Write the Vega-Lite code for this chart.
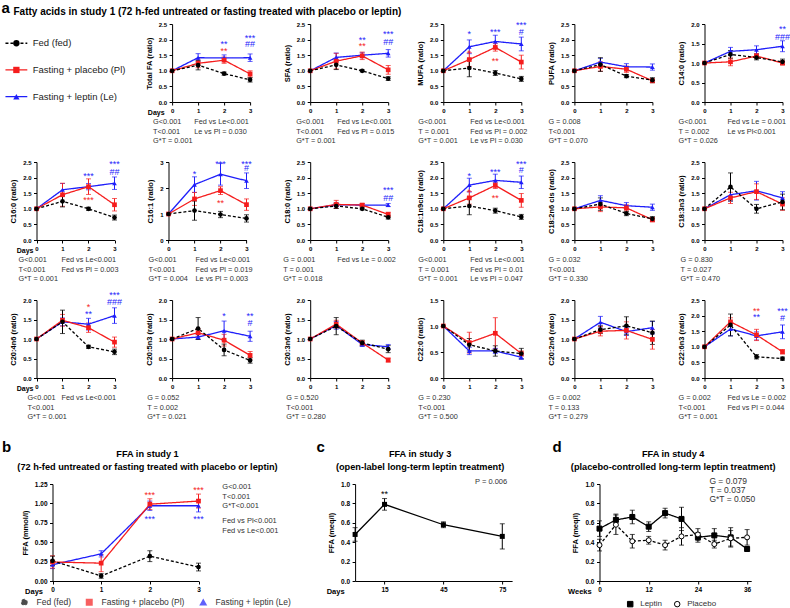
{
"$schema":"https://vega.github.io/schema/vega-lite/v6.json",
"padding":{"left":1,"top":1,"right":0,"bottom":0},
"columns":6,
"bounds":"flush",
"spacing":{"row":60,"column":55.1},
"resolve":{"scale":{"color":"independent","shape":"independent","strokeDash":"independent","fill":"independent","stroke":"independent"}},
"datasets":{
"fa":[
{"p":"TFA","g":"Le","d":0,"v":1,"e":0},{"p":"TFA","g":"Le","d":1,"v":1.42,"e":0.13},{"p":"TFA","g":"Le","d":2,"v":1.41,"e":0.1},{"p":"TFA","g":"Le","d":3,"v":1.42,"e":0.12},
{"p":"TFA","g":"Pl","d":0,"v":1,"e":0},{"p":"TFA","g":"Pl","d":1,"v":1.24,"e":0.14},{"p":"TFA","g":"Pl","d":2,"v":1.34,"e":0.1},{"p":"TFA","g":"Pl","d":3,"v":0.9,"e":0.1},
{"p":"TFA","g":"Fed","d":0,"v":1,"e":0},{"p":"TFA","g":"Fed","d":1,"v":1.18,"e":0.15},{"p":"TFA","g":"Fed","d":2,"v":0.91,"e":0.05},{"p":"TFA","g":"Fed","d":3,"v":0.71,"e":0.07},
{"p":"SFA","g":"Le","d":0,"v":1,"e":0},{"p":"SFA","g":"Le","d":1,"v":1.43,"e":0.14},{"p":"SFA","g":"Le","d":2,"v":1.5,"e":0.08},{"p":"SFA","g":"Le","d":3,"v":1.56,"e":0.12},
{"p":"SFA","g":"Pl","d":0,"v":1,"e":0},{"p":"SFA","g":"Pl","d":1,"v":1.31,"e":0.25},{"p":"SFA","g":"Pl","d":2,"v":1.48,"e":0.12},{"p":"SFA","g":"Pl","d":3,"v":1.03,"e":0.14},
{"p":"SFA","g":"Fed","d":0,"v":1,"e":0},{"p":"SFA","g":"Fed","d":1,"v":1.19,"e":0.15},{"p":"SFA","g":"Fed","d":2,"v":1.0,"e":0.03},{"p":"SFA","g":"Fed","d":3,"v":0.75,"e":0.06},
{"p":"MUFA","g":"Le","d":0,"v":1,"e":0},{"p":"MUFA","g":"Le","d":1,"v":1.77,"e":0.22},{"p":"MUFA","g":"Le","d":2,"v":1.94,"e":0.2},{"p":"MUFA","g":"Le","d":3,"v":1.86,"e":0.22},
{"p":"MUFA","g":"Pl","d":0,"v":1,"e":0},{"p":"MUFA","g":"Pl","d":1,"v":1.36,"e":0.22},{"p":"MUFA","g":"Pl","d":2,"v":1.75,"e":0.12},{"p":"MUFA","g":"Pl","d":3,"v":1.28,"e":0.22},
{"p":"MUFA","g":"Fed","d":0,"v":1,"e":0},{"p":"MUFA","g":"Fed","d":1,"v":1.09,"e":0.28},{"p":"MUFA","g":"Fed","d":2,"v":0.93,"e":0.08},{"p":"MUFA","g":"Fed","d":3,"v":0.74,"e":0.08},
{"p":"PUFA","g":"Le","d":0,"v":1,"e":0},{"p":"PUFA","g":"Le","d":1,"v":1.28,"e":0.12},{"p":"PUFA","g":"Le","d":2,"v":1.13,"e":0.1},{"p":"PUFA","g":"Le","d":3,"v":1.12,"e":0.1},
{"p":"PUFA","g":"Pl","d":0,"v":1,"e":0},{"p":"PUFA","g":"Pl","d":1,"v":1.14,"e":0.15},{"p":"PUFA","g":"Pl","d":2,"v":1.05,"e":0.1},{"p":"PUFA","g":"Pl","d":3,"v":0.68,"e":0.06},
{"p":"PUFA","g":"Fed","d":0,"v":1,"e":0},{"p":"PUFA","g":"Fed","d":1,"v":1.2,"e":0.22},{"p":"PUFA","g":"Fed","d":2,"v":0.83,"e":0.05},{"p":"PUFA","g":"Fed","d":3,"v":0.7,"e":0.08},
{"p":"C140","g":"Le","d":0,"v":1,"e":0},{"p":"C140","g":"Le","d":1,"v":1.3,"e":0.1},{"p":"C140","g":"Le","d":2,"v":1.34,"e":0.1},{"p":"C140","g":"Le","d":3,"v":1.43,"e":0.14},
{"p":"C140","g":"Pl","d":0,"v":1,"e":0},{"p":"C140","g":"Pl","d":1,"v":1.03,"e":0.1},{"p":"C140","g":"Pl","d":2,"v":1.18,"e":0.06},{"p":"C140","g":"Pl","d":3,"v":1.0,"e":0.05},
{"p":"C140","g":"Fed","d":0,"v":1,"e":0},{"p":"C140","g":"Fed","d":1,"v":1.22,"e":0.1},{"p":"C140","g":"Fed","d":2,"v":1.14,"e":0.06},{"p":"C140","g":"Fed","d":3,"v":1.03,"e":0.07},
{"p":"C160","g":"Le","d":0,"v":1,"e":0},{"p":"C160","g":"Le","d":1,"v":1.61,"e":0.2},{"p":"C160","g":"Le","d":2,"v":1.71,"e":0.1},{"p":"C160","g":"Le","d":3,"v":1.82,"e":0.2},
{"p":"C160","g":"Pl","d":0,"v":1,"e":0},{"p":"C160","g":"Pl","d":1,"v":1.45,"e":0.37},{"p":"C160","g":"Pl","d":2,"v":1.71,"e":0.25},{"p":"C160","g":"Pl","d":3,"v":1.13,"e":0.2},
{"p":"C160","g":"Fed","d":0,"v":1,"e":0},{"p":"C160","g":"Fed","d":1,"v":1.24,"e":0.18},{"p":"C160","g":"Fed","d":2,"v":1.0,"e":0.05},{"p":"C160","g":"Fed","d":3,"v":0.72,"e":0.08},
{"p":"C161","g":"Le","d":0,"v":1,"e":0},{"p":"C161","g":"Le","d":1,"v":2.13,"e":0.3},{"p":"C161","g":"Le","d":2,"v":2.53,"e":0.42},{"p":"C161","g":"Le","d":3,"v":2.28,"e":0.3},
{"p":"C161","g":"Pl","d":0,"v":1,"e":0},{"p":"C161","g":"Pl","d":1,"v":1.58,"e":0.25},{"p":"C161","g":"Pl","d":2,"v":1.9,"e":0.15},{"p":"C161","g":"Pl","d":3,"v":1.36,"e":0.22},
{"p":"C161","g":"Fed","d":0,"v":1,"e":0},{"p":"C161","g":"Fed","d":1,"v":1.13,"e":0.37},{"p":"C161","g":"Fed","d":2,"v":0.98,"e":0.12},{"p":"C161","g":"Fed","d":3,"v":0.83,"e":0.14},
{"p":"C180","g":"Le","d":0,"v":1,"e":0},{"p":"C180","g":"Le","d":1,"v":1.13,"e":0.06},{"p":"C180","g":"Le","d":2,"v":1.12,"e":0.04},{"p":"C180","g":"Le","d":3,"v":1.12,"e":0.05},
{"p":"C180","g":"Pl","d":0,"v":1,"e":0},{"p":"C180","g":"Pl","d":1,"v":1.14,"e":0.13},{"p":"C180","g":"Pl","d":2,"v":1.12,"e":0.05},{"p":"C180","g":"Pl","d":3,"v":0.82,"e":0.07},
{"p":"C180","g":"Fed","d":0,"v":1,"e":0},{"p":"C180","g":"Fed","d":1,"v":1.09,"e":0.08},{"p":"C180","g":"Fed","d":2,"v":1.0,"e":0.03},{"p":"C180","g":"Fed","d":3,"v":0.73,"e":0.06},
{"p":"C181","g":"Le","d":0,"v":1,"e":0},{"p":"C181","g":"Le","d":1,"v":1.76,"e":0.22},{"p":"C181","g":"Le","d":2,"v":1.91,"e":0.2},{"p":"C181","g":"Le","d":3,"v":1.85,"e":0.2},
{"p":"C181","g":"Pl","d":0,"v":1,"e":0},{"p":"C181","g":"Pl","d":1,"v":1.35,"e":0.2},{"p":"C181","g":"Pl","d":2,"v":1.75,"e":0.1},{"p":"C181","g":"Pl","d":3,"v":1.27,"e":0.22},
{"p":"C181","g":"Fed","d":0,"v":1,"e":0},{"p":"C181","g":"Fed","d":1,"v":1.09,"e":0.28},{"p":"C181","g":"Fed","d":2,"v":0.94,"e":0.08},{"p":"C181","g":"Fed","d":3,"v":0.74,"e":0.08},
{"p":"C182","g":"Le","d":0,"v":1,"e":0},{"p":"C182","g":"Le","d":1,"v":1.27,"e":0.15},{"p":"C182","g":"Le","d":2,"v":1.1,"e":0.1},{"p":"C182","g":"Le","d":3,"v":1.05,"e":0.1},
{"p":"C182","g":"Pl","d":0,"v":1,"e":0},{"p":"C182","g":"Pl","d":1,"v":1.06,"e":0.15},{"p":"C182","g":"Pl","d":2,"v":1.03,"e":0.1},{"p":"C182","g":"Pl","d":3,"v":0.65,"e":0.07},
{"p":"C182","g":"Fed","d":0,"v":1,"e":0},{"p":"C182","g":"Fed","d":1,"v":1.15,"e":0.2},{"p":"C182","g":"Fed","d":2,"v":0.85,"e":0.07},{"p":"C182","g":"Fed","d":3,"v":0.68,"e":0.07},
{"p":"C183","g":"Le","d":0,"v":1,"e":0},{"p":"C183","g":"Le","d":1,"v":1.45,"e":0.2},{"p":"C183","g":"Le","d":2,"v":1.58,"e":0.3},{"p":"C183","g":"Le","d":3,"v":1.35,"e":0.2},
{"p":"C183","g":"Pl","d":0,"v":1,"e":0},{"p":"C183","g":"Pl","d":1,"v":1.35,"e":0.18},{"p":"C183","g":"Pl","d":2,"v":1.55,"e":0.25},{"p":"C183","g":"Pl","d":3,"v":1.15,"e":0.2},
{"p":"C183","g":"Fed","d":0,"v":1,"e":0},{"p":"C183","g":"Fed","d":1,"v":1.7,"e":0.45},{"p":"C183","g":"Fed","d":2,"v":1.0,"e":0.14},{"p":"C183","g":"Fed","d":3,"v":1.22,"e":0.25},
{"p":"C204","g":"Le","d":0,"v":1,"e":0},{"p":"C204","g":"Le","d":1,"v":1.44,"e":0.1},{"p":"C204","g":"Le","d":2,"v":1.38,"e":0.15},{"p":"C204","g":"Le","d":3,"v":1.6,"e":0.2},
{"p":"C204","g":"Pl","d":0,"v":1,"e":0},{"p":"C204","g":"Pl","d":1,"v":1.48,"e":0.15},{"p":"C204","g":"Pl","d":2,"v":1.29,"e":0.12},{"p":"C204","g":"Pl","d":3,"v":0.92,"e":0.13},
{"p":"C204","g":"Fed","d":0,"v":1,"e":0},{"p":"C204","g":"Fed","d":1,"v":1.44,"e":0.3},{"p":"C204","g":"Fed","d":2,"v":0.8,"e":0.04},{"p":"C204","g":"Fed","d":3,"v":0.67,"e":0.07},
{"p":"C205","g":"Le","d":0,"v":1,"e":0},{"p":"C205","g":"Le","d":1,"v":1.05,"e":0.06},{"p":"C205","g":"Le","d":2,"v":1.21,"e":0.25},{"p":"C205","g":"Le","d":3,"v":1.07,"e":0.13},
{"p":"C205","g":"Pl","d":0,"v":1,"e":0},{"p":"C205","g":"Pl","d":1,"v":1.16,"e":0.1},{"p":"C205","g":"Pl","d":2,"v":0.97,"e":0.15},{"p":"C205","g":"Pl","d":3,"v":0.58,"e":0.1},
{"p":"C205","g":"Fed","d":0,"v":1,"e":0},{"p":"C205","g":"Fed","d":1,"v":1.27,"e":0.28},{"p":"C205","g":"Fed","d":2,"v":0.72,"e":0.15},{"p":"C205","g":"Fed","d":3,"v":0.45,"e":0.07},
{"p":"C203","g":"Le","d":0,"v":1,"e":0},{"p":"C203","g":"Le","d":1,"v":1.35,"e":0.1},{"p":"C203","g":"Le","d":2,"v":0.86,"e":0.05},{"p":"C203","g":"Le","d":3,"v":0.8,"e":0.06},
{"p":"C203","g":"Pl","d":0,"v":1,"e":0},{"p":"C203","g":"Pl","d":1,"v":1.38,"e":0.1},{"p":"C203","g":"Pl","d":2,"v":0.9,"e":0.05},{"p":"C203","g":"Pl","d":3,"v":0.46,"e":0.05},
{"p":"C203","g":"Fed","d":0,"v":1,"e":0},{"p":"C203","g":"Fed","d":1,"v":1.33,"e":0.22},{"p":"C203","g":"Fed","d":2,"v":0.9,"e":0.07},{"p":"C203","g":"Fed","d":3,"v":0.74,"e":0.09},
{"p":"C220","g":"Le","d":0,"v":1,"e":0},{"p":"C220","g":"Le","d":1,"v":0.52,"e":0.07},{"p":"C220","g":"Le","d":2,"v":0.52,"e":0.05},{"p":"C220","g":"Le","d":3,"v":0.4,"e":0.04},
{"p":"C220","g":"Pl","d":0,"v":1,"e":0},{"p":"C220","g":"Pl","d":1,"v":0.68,"e":0.2},{"p":"C220","g":"Pl","d":2,"v":0.86,"e":0.3},{"p":"C220","g":"Pl","d":3,"v":0.47,"e":0.05},
{"p":"C220","g":"Fed","d":0,"v":1,"e":0},{"p":"C220","g":"Fed","d":1,"v":0.64,"e":0.12},{"p":"C220","g":"Fed","d":2,"v":0.52,"e":0.1},{"p":"C220","g":"Fed","d":3,"v":0.47,"e":0.1},
{"p":"C202","g":"Le","d":0,"v":1,"e":0},{"p":"C202","g":"Le","d":1,"v":1.43,"e":0.15},{"p":"C202","g":"Le","d":2,"v":1.19,"e":0.1},{"p":"C202","g":"Le","d":3,"v":1.29,"e":0.16},
{"p":"C202","g":"Pl","d":0,"v":1,"e":0},{"p":"C202","g":"Pl","d":1,"v":1.2,"e":0.12},{"p":"C202","g":"Pl","d":2,"v":1.22,"e":0.22},{"p":"C202","g":"Pl","d":3,"v":0.99,"e":0.25},
{"p":"C202","g":"Fed","d":0,"v":1,"e":0},{"p":"C202","g":"Fed","d":1,"v":1.24,"e":0.1},{"p":"C202","g":"Fed","d":2,"v":1.34,"e":0.23},{"p":"C202","g":"Fed","d":3,"v":1.16,"e":0.3},
{"p":"C226","g":"Le","d":0,"v":1,"e":0},{"p":"C226","g":"Le","d":1,"v":1.57,"e":0.22},{"p":"C226","g":"Le","d":2,"v":1.35,"e":0.13},{"p":"C226","g":"Le","d":3,"v":1.48,"e":0.22},
{"p":"C226","g":"Pl","d":0,"v":1,"e":0},{"p":"C226","g":"Pl","d":1,"v":1.8,"e":0.13},{"p":"C226","g":"Pl","d":2,"v":1.38,"e":0.18},{"p":"C226","g":"Pl","d":3,"v":0.84,"e":0.07},
{"p":"C226","g":"Fed","d":0,"v":1,"e":0},{"p":"C226","g":"Fed","d":1,"v":1.7,"e":0.35},{"p":"C226","g":"Fed","d":2,"v":0.68,"e":0.07},{"p":"C226","g":"Fed","d":3,"v":0.62,"e":0.05}
],
"ann":[
{"p":"TFA","d":2,"y":1.88,"t":"**","g":"Le"},{"p":"TFA","d":2,"y":1.66,"t":"**","g":"Pl"},{"p":"TFA","d":3,"y":2.07,"t":"***","g":"Le"},{"p":"TFA","d":3,"y":1.88,"t":"##","g":"Le"},
{"p":"SFA","d":2,"y":2.02,"t":"**","g":"Le"},{"p":"SFA","d":2,"y":1.82,"t":"**","g":"Pl"},{"p":"SFA","d":3,"y":2.2,"t":"***","g":"Le"},{"p":"SFA","d":3,"y":1.95,"t":"##","g":"Le"},
{"p":"MUFA","d":1,"y":2.2,"t":"*","g":"Le"},{"p":"MUFA","d":1,"y":1.6,"t":"*","g":"Pl"},{"p":"MUFA","d":2,"y":2.27,"t":"***","g":"Le"},{"p":"MUFA","d":2,"y":1.36,"t":"**","g":"Pl"},{"p":"MUFA","d":3,"y":2.5,"t":"***","g":"Le"},{"p":"MUFA","d":3,"y":2.29,"t":"#","g":"Le"},
{"p":"C140","d":3,"y":1.89,"t":"**","g":"Le"},{"p":"C140","d":3,"y":1.69,"t":"###","g":"Le"},
{"p":"C160","d":2,"y":2.09,"t":"***","g":"Le"},{"p":"C160","d":2,"y":1.3,"t":"***","g":"Pl"},{"p":"C160","d":3,"y":2.47,"t":"***","g":"Le"},{"p":"C160","d":3,"y":2.22,"t":"##","g":"Le"},
{"p":"C161","d":1,"y":2.56,"t":"*","g":"Le"},{"p":"C161","d":2,"y":2.98,"t":"***","g":"Le"},{"p":"C161","d":2,"y":1.45,"t":"**","g":"Pl"},{"p":"C161","d":3,"y":2.98,"t":"***","g":"Le"},{"p":"C161","d":3,"y":2.8,"t":"#","g":"Le"},
{"p":"C180","d":3,"y":1.65,"t":"***","g":"Le"},{"p":"C180","d":3,"y":1.39,"t":"##","g":"Le"},
{"p":"C181","d":1,"y":2.09,"t":"*","g":"Le"},{"p":"C181","d":1,"y":1.57,"t":"*","g":"Pl"},{"p":"C181","d":2,"y":2.22,"t":"***","g":"Le"},{"p":"C181","d":2,"y":1.39,"t":"**","g":"Pl"},{"p":"C181","d":3,"y":2.47,"t":"***","g":"Le"},{"p":"C181","d":3,"y":2.28,"t":"#","g":"Le"},
{"p":"C204","d":2,"y":1.85,"t":"*","g":"Pl"},{"p":"C204","d":2,"y":1.66,"t":"**","g":"Le"},{"p":"C204","d":3,"y":2.15,"t":"***","g":"Le"},{"p":"C204","d":3,"y":1.98,"t":"###","g":"Le"},
{"p":"C205","d":2,"y":1.61,"t":"*","g":"Le"},{"p":"C205","d":3,"y":1.61,"t":"**","g":"Le"},{"p":"C205","d":3,"y":1.44,"t":"#","g":"Le"},
{"p":"C226","d":2,"y":2.18,"t":"**","g":"Pl"},{"p":"C226","d":2,"y":1.99,"t":"**","g":"Le"},{"p":"C226","d":3,"y":2.18,"t":"***","g":"Le"},{"p":"C226","d":3,"y":1.96,"t":"#","g":"Le"}
],
"b":[
{"g":"Le","d":0,"v":0.21,"e":0.05},{"g":"Le","d":1,"v":0.35,"e":0.04},{"g":"Le","d":2,"v":0.97,"e":0.06},{"g":"Le","d":3,"v":0.97,"e":0.08},
{"g":"Pl","d":0,"v":0.245,"e":0.08},{"g":"Pl","d":1,"v":0.23,"e":0.11},{"g":"Pl","d":2,"v":0.99,"e":0.07},{"g":"Pl","d":3,"v":1.03,"e":0.09},
{"g":"Fed","d":0,"v":0.26,"e":0.06},{"g":"Fed","d":1,"v":0.065,"e":0.03},{"g":"Fed","d":2,"v":0.32,"e":0.07},{"g":"Fed","d":3,"v":0.18,"e":0.05}
],
"c":[{"d":0,"v":0.48,"e":0.07},{"d":15,"v":0.79,"e":0.06},{"d":45,"v":0.58,"e":0.03},{"d":75,"v":0.46,"e":0.13}],
"dd":[
{"g":"Leptin","w":0,"v":0.54,"e":0.08},{"g":"Leptin","w":4,"v":0.63,"e":0.06},{"g":"Leptin","w":8,"v":0.66,"e":0.07},{"g":"Leptin","w":12,"v":0.56,"e":0.05},{"g":"Leptin","w":16,"v":0.7,"e":0.05},{"g":"Leptin","w":20,"v":0.64,"e":0.12},{"g":"Leptin","w":24,"v":0.45,"e":0.05},{"g":"Leptin","w":28,"v":0.47,"e":0.07},{"g":"Leptin","w":32,"v":0.45,"e":0.1},{"g":"Leptin","w":36,"v":0.33,"e":0.02},
{"g":"Placebo","w":0,"v":0.37,"e":0.06},{"g":"Placebo","w":4,"v":0.58,"e":0.1},{"g":"Placebo","w":8,"v":0.41,"e":0.07},{"g":"Placebo","w":12,"v":0.42,"e":0.04},{"g":"Placebo","w":16,"v":0.37,"e":0.05},{"g":"Placebo","w":20,"v":0.46,"e":0.09},{"g":"Placebo","w":24,"v":0.48,"e":0.06},{"g":"Placebo","w":28,"v":0.38,"e":0.04},{"g":"Placebo","w":32,"v":0.44,"e":0.08},{"g":"Placebo","w":36,"v":0.45,"e":0.08}
]
},
"concat":[
{"width":78,"height":78,
 "data":{"values":[{"g":"Fed","k":0,"lab":"Fed (fed)"},{"g":"Pl","k":1,"lab":"Fasting + placebo (Pl)"},{"g":"Le","k":2,"lab":"Fasting + leptin (Le)"}]},
 "title":{"text":"a","anchor":"start","frame":"group","dx":-37.5,"offset":8,"fontSize":15,"fontWeight":"bold"},
 "encoding":{"y":{"field":"k","type":"quantitative","scale":{"domain":[-0.72,2.2],"reverse":true},"axis":null},
  "x":{"datum":-0.29,"type":"quantitative","scale":{"domain":[0,1]},"axis":null},
  "color":{"field":"g","type":"nominal","legend":null}},
 "layer":[
  {"mark":{"type":"rule","strokeWidth":1.3},"encoding":{"x":{"datum":-0.43},"x2":{"datum":-0.15},"strokeDash":{"field":"g","type":"nominal","scale":{"domain":["Fed","Le","Pl"],"range":[[3,2],[1,0],[1,0]]},"legend":null}}},
  {"mark":{"type":"point","size":40},"encoding":{"shape":{"field":"g","type":"nominal","legend":null}}},
  {"mark":{"type":"text","align":"left","baseline":"middle","fontSize":9.5},"encoding":{"x":{"datum":-0.08},"text":{"field":"lab"},"color":{"value":"#222"}}}
 ]},
{"width":78,"height":78,"data":{"name":"fa"},"transform":[{"filter":"datum.p=='TFA'"}],
 "title":{"text":"Fatty acids in study 1 (72 h-fed untreated or fasting treated with placebo or leptin)","anchor":"start","frame":"group","dx":-158.6,"offset":4,"fontSize":10,"fontWeight":"bold"},
 "encoding":{"x":{"field":"d","type":"quantitative","scale":{"domain":[0,3]},"axis":{"values":[0,1,2,3],"format":"d","title":"Days","titleX":-8,"titleY":10,"titleAlign":"right","titleBaseline":"middle","titleFontSize":7}},
  "y":{"field":"v","type":"quantitative","scale":{"domain":[0,2.5]},"axis":{"values":[0,0.5,1,1.5,2,2.5],"format":".1f","title":"Total FA (ratio)"}},
  "color":{"field":"g","type":"nominal","legend":null}},
 "layer":[
  {"transform":[{"filter":"datum.d>0"}],"mark":{"type":"errorbar","ticks":{"size":5},"thickness":1},"encoding":{"yError":{"field":"e"}}},
  {"mark":"line","encoding":{"strokeDash":{"field":"g","type":"nominal","scale":{"domain":["Fed","Le","Pl"],"range":[[3,2],[1,0],[1,0]]},"legend":null}}},
  {"mark":"point","encoding":{"shape":{"field":"g","type":"nominal","legend":null}}},
  {"data":{"name":"ann"},"transform":[{"filter":"datum.p=='TFA'"}],"mark":{"type":"text","fontSize":9,"baseline":"middle","dy":1},"encoding":{"y":{"field":"y","type":"quantitative"},"text":{"field":"t"}}},
  {"transform":[{"filter":"datum.d==0&&datum.g=='Fed'"}],"mark":{"type":"text","align":"left","baseline":"top","dy":47.2,"lineHeight":9.5,"fontSize":7.3},"encoding":{"x":{"datum":-0.73},"text":{"value":["G<0.001","T<0.001","G*T = 0.001"]},"color":{"value":"#333"}}},
  {"transform":[{"filter":"datum.d==0&&datum.g=='Fed'"}],"mark":{"type":"text","align":"left","baseline":"top","dy":47.2,"lineHeight":9.5,"fontSize":7.3},"encoding":{"x":{"datum":0.85},"text":{"value":["Fed vs Le<0.001","Le vs Pl = 0.030"]},"color":{"value":"#333"}}}
 ]},
{"width":78,"height":78,"data":{"name":"fa"},"transform":[{"filter":"datum.p=='SFA'"}],
 "encoding":{"x":{"field":"d","type":"quantitative","scale":{"domain":[0,3],"range":[5,83]},"axis":{"values":[0,1,2,3],"format":"d","title":null}},
  "y":{"field":"v","type":"quantitative","scale":{"domain":[0,2.5]},"axis":{"values":[0,0.5,1,1.5,2,2.5],"format":".1f","title":"SFA (ratio)","offset":-5}},
  "color":{"field":"g","type":"nominal","legend":null}},
 "layer":[
  {"transform":[{"filter":"datum.d>0"}],"mark":{"type":"errorbar","ticks":{"size":5},"thickness":1},"encoding":{"yError":{"field":"e"}}},
  {"mark":"line","encoding":{"strokeDash":{"field":"g","type":"nominal","scale":{"domain":["Fed","Le","Pl"],"range":[[3,2],[1,0],[1,0]]},"legend":null}}},
  {"mark":"point","encoding":{"shape":{"field":"g","type":"nominal","legend":null}}},
  {"data":{"name":"ann"},"transform":[{"filter":"datum.p=='SFA'"}],"mark":{"type":"text","fontSize":9,"baseline":"middle","dy":1},"encoding":{"y":{"field":"y","type":"quantitative"},"text":{"field":"t"}}},
  {"transform":[{"filter":"datum.d==0&&datum.g=='Fed'"}],"mark":{"type":"text","align":"left","baseline":"top","dy":47.2,"lineHeight":9.5,"fontSize":7.3},"encoding":{"x":{"datum":-0.54},"text":{"value":["G<0.001","T<0.001","G*T = 0.001"]},"color":{"value":"#333"}}},
  {"transform":[{"filter":"datum.d==0&&datum.g=='Fed'"}],"mark":{"type":"text","align":"left","baseline":"top","dy":47.2,"lineHeight":9.5,"fontSize":7.3},"encoding":{"x":{"datum":1.04},"text":{"value":["Fed vs Le<0.001","Fed vs Pl = 0.015"]},"color":{"value":"#333"}}}
 ]},
{"width":78,"height":78,"data":{"name":"fa"},"transform":[{"filter":"datum.p=='MUFA'"}],
 "encoding":{"x":{"field":"d","type":"quantitative","scale":{"domain":[0,3],"range":[5,83]},"axis":{"values":[0,1,2,3],"format":"d","title":null}},
  "y":{"field":"v","type":"quantitative","scale":{"domain":[0,2.5]},"axis":{"values":[0,0.5,1,1.5,2,2.5],"format":".1f","title":"MUFA (ratio)","offset":-5}},
  "color":{"field":"g","type":"nominal","legend":null}},
 "layer":[
  {"transform":[{"filter":"datum.d>0"}],"mark":{"type":"errorbar","ticks":{"size":5},"thickness":1},"encoding":{"yError":{"field":"e"}}},
  {"mark":"line","encoding":{"strokeDash":{"field":"g","type":"nominal","scale":{"domain":["Fed","Le","Pl"],"range":[[3,2],[1,0],[1,0]]},"legend":null}}},
  {"mark":"point","encoding":{"shape":{"field":"g","type":"nominal","legend":null}}},
  {"data":{"name":"ann"},"transform":[{"filter":"datum.p=='MUFA'"}],"mark":{"type":"text","fontSize":9,"baseline":"middle","dy":1},"encoding":{"y":{"field":"y","type":"quantitative"},"text":{"field":"t"}}},
  {"transform":[{"filter":"datum.d==0&&datum.g=='Fed'"}],"mark":{"type":"text","align":"left","baseline":"top","dy":47.2,"lineHeight":9.5,"fontSize":7.3},"encoding":{"x":{"datum":-0.96},"text":{"value":["G<0.001","T = 0.001","G*T = 0.001"]},"color":{"value":"#333"}}},
  {"transform":[{"filter":"datum.d==0&&datum.g=='Fed'"}],"mark":{"type":"text","align":"left","baseline":"top","dy":47.2,"lineHeight":9.5,"fontSize":7.3},"encoding":{"x":{"datum":1.04},"text":{"value":["Fed vs Le<0.001","Fed vs Pl = 0.002","Le vs Pl = 0.030"]},"color":{"value":"#333"}}}
 ]},
{"width":78,"height":78,"data":{"name":"fa"},"transform":[{"filter":"datum.p=='PUFA'"}],
 "encoding":{"x":{"field":"d","type":"quantitative","scale":{"domain":[0,3],"range":[3,81]},"axis":{"values":[0,1,2,3],"format":"d","title":null}},
  "y":{"field":"v","type":"quantitative","scale":{"domain":[0,2.5]},"axis":{"values":[0,0.5,1,1.5,2,2.5],"format":".1f","title":"PUFA (ratio)","offset":-3}},
  "color":{"field":"g","type":"nominal","legend":null}},
 "layer":[
  {"transform":[{"filter":"datum.d>0"}],"mark":{"type":"errorbar","ticks":{"size":5},"thickness":1},"encoding":{"yError":{"field":"e"}}},
  {"mark":"line","encoding":{"strokeDash":{"field":"g","type":"nominal","scale":{"domain":["Fed","Le","Pl"],"range":[[3,2],[1,0],[1,0]]},"legend":null}}},
  {"mark":"point","encoding":{"shape":{"field":"g","type":"nominal","legend":null}}},
  {"transform":[{"filter":"datum.d==0&&datum.g=='Fed'"}],"mark":{"type":"text","align":"left","baseline":"top","dy":47.2,"lineHeight":9.5,"fontSize":7.3},"encoding":{"x":{"datum":-1.0},"text":{"value":["G = 0.008","T<0.001","G*T = 0.070"]},"color":{"value":"#333"}}}
 ]},
{"width":78,"height":78,"data":{"name":"fa"},"transform":[{"filter":"datum.p=='C140'"}],
 "encoding":{"x":{"field":"d","type":"quantitative","scale":{"domain":[0,3]},"axis":{"values":[0,1,2,3],"format":"d","title":null}},
  "y":{"field":"v","type":"quantitative","scale":{"domain":[0,2]},"axis":{"values":[0,0.5,1,1.5,2],"format":".1f","title":"C14:0 (ratio)"}},
  "color":{"field":"g","type":"nominal","legend":null}},
 "layer":[
  {"transform":[{"filter":"datum.d>0"}],"mark":{"type":"errorbar","ticks":{"size":5},"thickness":1},"encoding":{"yError":{"field":"e"}}},
  {"mark":"line","encoding":{"strokeDash":{"field":"g","type":"nominal","scale":{"domain":["Fed","Le","Pl"],"range":[[3,2],[1,0],[1,0]]},"legend":null}}},
  {"mark":"point","encoding":{"shape":{"field":"g","type":"nominal","legend":null}}},
  {"data":{"name":"ann"},"transform":[{"filter":"datum.p=='C140'"}],"mark":{"type":"text","fontSize":9,"baseline":"middle","dy":1},"encoding":{"y":{"field":"y","type":"quantitative"},"text":{"field":"t"}}},
  {"transform":[{"filter":"datum.d==0&&datum.g=='Fed'"}],"mark":{"type":"text","align":"left","baseline":"top","dy":55,"lineHeight":9.5,"fontSize":7.3},"encoding":{"x":{"datum":-1.0},"text":{"value":["G<0.001","T = 0.002","G*T = 0.026"]},"color":{"value":"#333"}}},
  {"transform":[{"filter":"datum.d==0&&datum.g=='Fed'"}],"mark":{"type":"text","align":"left","baseline":"top","dy":55,"lineHeight":9.5,"fontSize":7.3},"encoding":{"x":{"datum":0.88},"text":{"value":["Fed vs Le = 0.001","Le vs Pl<0.001"]},"color":{"value":"#333"}}}
 ]},
{"width":78,"height":78,"data":{"name":"fa"},"transform":[{"filter":"datum.p=='C160'"}],
 "encoding":{"x":{"field":"d","type":"quantitative","scale":{"domain":[0,3],"range":[-2.5,75.5]},"axis":{"values":[0,1,2,3],"format":"d","title":"Days","titleX":-6,"titleY":10,"titleAlign":"right","titleBaseline":"middle","titleFontSize":7}},
  "y":{"field":"v","type":"quantitative","scale":{"domain":[0,2.5]},"axis":{"values":[0,0.5,1,1.5,2,2.5],"format":".1f","title":"C16:0 (ratio)","offset":2.5}},
  "color":{"field":"g","type":"nominal","legend":null}},
 "layer":[
  {"transform":[{"filter":"datum.d>0"}],"mark":{"type":"errorbar","ticks":{"size":5},"thickness":1},"encoding":{"yError":{"field":"e"}}},
  {"mark":"line","encoding":{"strokeDash":{"field":"g","type":"nominal","scale":{"domain":["Fed","Le","Pl"],"range":[[3,2],[1,0],[1,0]]},"legend":null}}},
  {"mark":"point","encoding":{"shape":{"field":"g","type":"nominal","legend":null}}},
  {"data":{"name":"ann"},"transform":[{"filter":"datum.p=='C160'"}],"mark":{"type":"text","fontSize":9,"baseline":"middle","dy":1},"encoding":{"y":{"field":"y","type":"quantitative"},"text":{"field":"t"}}},
  {"transform":[{"filter":"datum.d==0&&datum.g=='Fed'"}],"mark":{"type":"text","align":"left","baseline":"top","dy":47.2,"lineHeight":9.5,"fontSize":7.3},"encoding":{"x":{"datum":-0.69},"text":{"value":["G<0.001","T<0.001","G*T = 0.001"]},"color":{"value":"#333"}}},
  {"transform":[{"filter":"datum.d==0&&datum.g=='Fed'"}],"mark":{"type":"text","align":"left","baseline":"top","dy":47.2,"lineHeight":9.5,"fontSize":7.3},"encoding":{"x":{"datum":0.96},"text":{"value":["Fed vs Le<0.001","Fed vs Pl = 0.003"]},"color":{"value":"#333"}}}
 ]},
{"width":78,"height":78,"data":{"name":"fa"},"transform":[{"filter":"datum.p=='C161'"}],
 "encoding":{"x":{"field":"d","type":"quantitative","scale":{"domain":[0,3],"range":[-3.6,74.4]},"axis":{"values":[0,1,2,3],"format":"d","title":null}},
  "y":{"field":"v","type":"quantitative","scale":{"domain":[0,3]},"axis":{"values":[0,1,2,3],"format":"d","title":"C16:1 (ratio)","offset":3.6}},
  "color":{"field":"g","type":"nominal","legend":null}},
 "layer":[
  {"transform":[{"filter":"datum.d>0"}],"mark":{"type":"errorbar","ticks":{"size":5},"thickness":1},"encoding":{"yError":{"field":"e"}}},
  {"mark":"line","encoding":{"strokeDash":{"field":"g","type":"nominal","scale":{"domain":["Fed","Le","Pl"],"range":[[3,2],[1,0],[1,0]]},"legend":null}}},
  {"mark":"point","encoding":{"shape":{"field":"g","type":"nominal","legend":null}}},
  {"data":{"name":"ann"},"transform":[{"filter":"datum.p=='C161'"}],"mark":{"type":"text","fontSize":9,"baseline":"middle","dy":1},"encoding":{"y":{"field":"y","type":"quantitative"},"text":{"field":"t"}}},
  {"transform":[{"filter":"datum.d==0&&datum.g=='Fed'"}],"mark":{"type":"text","align":"left","baseline":"top","dy":42,"lineHeight":9.5,"fontSize":7.3},"encoding":{"x":{"datum":-0.77},"text":{"value":["G<0.001","T<0.001","G*T = 0.004"]},"color":{"value":"#333"}}},
  {"transform":[{"filter":"datum.d==0&&datum.g=='Fed'"}],"mark":{"type":"text","align":"left","baseline":"top","dy":42,"lineHeight":9.5,"fontSize":7.3},"encoding":{"x":{"datum":1.04},"text":{"value":["Fed vs Le<0.001","Fed vs Pl = 0.019","Le vs Pl = 0.003"]},"color":{"value":"#333"}}}
 ]},
{"width":78,"height":78,"data":{"name":"fa"},"transform":[{"filter":"datum.p=='C180'"}],
 "encoding":{"x":{"field":"d","type":"quantitative","scale":{"domain":[0,3],"range":[5,83]},"axis":{"values":[0,1,2,3],"format":"d","title":null}},
  "y":{"field":"v","type":"quantitative","scale":{"domain":[0,2.5]},"axis":{"values":[0,0.5,1,1.5,2,2.5],"format":".1f","title":"C18:0 (ratio)","offset":-5}},
  "color":{"field":"g","type":"nominal","legend":null}},
 "layer":[
  {"transform":[{"filter":"datum.d>0"}],"mark":{"type":"errorbar","ticks":{"size":5},"thickness":1},"encoding":{"yError":{"field":"e"}}},
  {"mark":"line","encoding":{"strokeDash":{"field":"g","type":"nominal","scale":{"domain":["Fed","Le","Pl"],"range":[[3,2],[1,0],[1,0]]},"legend":null}}},
  {"mark":"point","encoding":{"shape":{"field":"g","type":"nominal","legend":null}}},
  {"data":{"name":"ann"},"transform":[{"filter":"datum.p=='C180'"}],"mark":{"type":"text","fontSize":9,"baseline":"middle","dy":1},"encoding":{"y":{"field":"y","type":"quantitative"},"text":{"field":"t"}}},
  {"transform":[{"filter":"datum.d==0&&datum.g=='Fed'"}],"mark":{"type":"text","align":"left","baseline":"top","dy":47.2,"lineHeight":9.5,"fontSize":7.3},"encoding":{"x":{"datum":-1.04},"text":{"value":["G = 0.001","T = 0.001","G*T = 0.018"]},"color":{"value":"#333"}}},
  {"transform":[{"filter":"datum.d==0&&datum.g=='Fed'"}],"mark":{"type":"text","align":"left","baseline":"top","dy":47.2,"lineHeight":9.5,"fontSize":7.3},"encoding":{"x":{"datum":1.04},"text":{"value":["Fed vs Le = 0.002"]},"color":{"value":"#333"}}}
 ]},
{"width":78,"height":78,"data":{"name":"fa"},"transform":[{"filter":"datum.p=='C181'"}],
 "encoding":{"x":{"field":"d","type":"quantitative","scale":{"domain":[0,3],"range":[5,83]},"axis":{"values":[0,1,2,3],"format":"d","title":null}},
  "y":{"field":"v","type":"quantitative","scale":{"domain":[0,2.5]},"axis":{"values":[0,0.5,1,1.5,2,2.5],"format":".1f","title":"C18:1n9cis (ratio)","offset":-5}},
  "color":{"field":"g","type":"nominal","legend":null}},
 "layer":[
  {"transform":[{"filter":"datum.d>0"}],"mark":{"type":"errorbar","ticks":{"size":5},"thickness":1},"encoding":{"yError":{"field":"e"}}},
  {"mark":"line","encoding":{"strokeDash":{"field":"g","type":"nominal","scale":{"domain":["Fed","Le","Pl"],"range":[[3,2],[1,0],[1,0]]},"legend":null}}},
  {"mark":"point","encoding":{"shape":{"field":"g","type":"nominal","legend":null}}},
  {"data":{"name":"ann"},"transform":[{"filter":"datum.p=='C181'"}],"mark":{"type":"text","fontSize":9,"baseline":"middle","dy":1},"encoding":{"y":{"field":"y","type":"quantitative"},"text":{"field":"t"}}},
  {"transform":[{"filter":"datum.d==0&&datum.g=='Fed'"}],"mark":{"type":"text","align":"left","baseline":"top","dy":47.2,"lineHeight":9.5,"fontSize":7.3},"encoding":{"x":{"datum":-0.96},"text":{"value":["G<0.001","T = 0.001","G*T = 0.001"]},"color":{"value":"#333"}}},
  {"transform":[{"filter":"datum.d==0&&datum.g=='Fed'"}],"mark":{"type":"text","align":"left","baseline":"top","dy":47.2,"lineHeight":9.5,"fontSize":7.3},"encoding":{"x":{"datum":1.04},"text":{"value":["Fed vs Le<0.001","Fed vs Pl = 0.01","Le vs Pl = 0.047"]},"color":{"value":"#333"}}}
 ]},
{"width":78,"height":78,"data":{"name":"fa"},"transform":[{"filter":"datum.p=='C182'"}],
 "encoding":{"x":{"field":"d","type":"quantitative","scale":{"domain":[0,3],"range":[3,81]},"axis":{"values":[0,1,2,3],"format":"d","title":null}},
  "y":{"field":"v","type":"quantitative","scale":{"domain":[0,2.5]},"axis":{"values":[0,0.5,1,1.5,2,2.5],"format":".1f","title":"C18:2n6 cis (ratio)","offset":-3}},
  "color":{"field":"g","type":"nominal","legend":null}},
 "layer":[
  {"transform":[{"filter":"datum.d>0"}],"mark":{"type":"errorbar","ticks":{"size":5},"thickness":1},"encoding":{"yError":{"field":"e"}}},
  {"mark":"line","encoding":{"strokeDash":{"field":"g","type":"nominal","scale":{"domain":["Fed","Le","Pl"],"range":[[3,2],[1,0],[1,0]]},"legend":null}}},
  {"mark":"point","encoding":{"shape":{"field":"g","type":"nominal","legend":null}}},
  {"transform":[{"filter":"datum.d==0&&datum.g=='Fed'"}],"mark":{"type":"text","align":"left","baseline":"top","dy":47.2,"lineHeight":9.5,"fontSize":7.3},"encoding":{"x":{"datum":-1.0},"text":{"value":["G = 0.032","T<0.001","G*T = 0.330"]},"color":{"value":"#333"}}}
 ]},
{"width":78,"height":78,"data":{"name":"fa"},"transform":[{"filter":"datum.p=='C183'"}],
 "encoding":{"x":{"field":"d","type":"quantitative","scale":{"domain":[0,3]},"axis":{"values":[0,1,2,3],"format":"d","title":null}},
  "y":{"field":"v","type":"quantitative","scale":{"domain":[0,2.5]},"axis":{"values":[0,0.5,1,1.5,2,2.5],"format":".1f","title":"C18:3n3 (ratio)"}},
  "color":{"field":"g","type":"nominal","legend":null}},
 "layer":[
  {"transform":[{"filter":"datum.d>0"}],"mark":{"type":"errorbar","ticks":{"size":5},"thickness":1},"encoding":{"yError":{"field":"e"}}},
  {"mark":"line","encoding":{"strokeDash":{"field":"g","type":"nominal","scale":{"domain":["Fed","Le","Pl"],"range":[[3,2],[1,0],[1,0]]},"legend":null}}},
  {"mark":"point","encoding":{"shape":{"field":"g","type":"nominal","legend":null}}},
  {"transform":[{"filter":"datum.d==0&&datum.g=='Fed'"}],"mark":{"type":"text","align":"left","baseline":"top","dy":47.2,"lineHeight":9.5,"fontSize":7.3},"encoding":{"x":{"datum":-0.92},"text":{"value":["G = 0.830","T = 0.027","G*T = 0.470"]},"color":{"value":"#333"}}}
 ]},
{"width":78,"height":78,"data":{"name":"fa"},"transform":[{"filter":"datum.p=='C204'"}],
 "encoding":{"x":{"field":"d","type":"quantitative","scale":{"domain":[0,3],"range":[-2.5,75.5]},"axis":{"values":[0,1,2,3],"format":"d","title":"Days","titleX":-6,"titleY":10,"titleAlign":"right","titleBaseline":"middle","titleFontSize":7}},
  "y":{"field":"v","type":"quantitative","scale":{"domain":[0,2]},"axis":{"values":[0,0.5,1,1.5,2],"format":".1f","title":"C20:4n6 (ratio)","offset":2.5}},
  "color":{"field":"g","type":"nominal","legend":null}},
 "layer":[
  {"transform":[{"filter":"datum.d>0"}],"mark":{"type":"errorbar","ticks":{"size":5},"thickness":1},"encoding":{"yError":{"field":"e"}}},
  {"mark":"line","encoding":{"strokeDash":{"field":"g","type":"nominal","scale":{"domain":["Fed","Le","Pl"],"range":[[3,2],[1,0],[1,0]]},"legend":null}}},
  {"mark":"point","encoding":{"shape":{"field":"g","type":"nominal","legend":null}}},
  {"data":{"name":"ann"},"transform":[{"filter":"datum.p=='C204'"}],"mark":{"type":"text","fontSize":9,"baseline":"middle","dy":1},"encoding":{"y":{"field":"y","type":"quantitative"},"text":{"field":"t"}}},
  {"transform":[{"filter":"datum.d==0&&datum.g=='Fed'"}],"mark":{"type":"text","align":"left","baseline":"top","dy":55,"lineHeight":9.5,"fontSize":7.3},"encoding":{"x":{"datum":-0.35},"text":{"value":["G<0.001","T<0.001","G*T = 0.001"]},"color":{"value":"#333"}}},
  {"transform":[{"filter":"datum.d==0&&datum.g=='Fed'"}],"mark":{"type":"text","align":"left","baseline":"top","dy":55,"lineHeight":9.5,"fontSize":7.3},"encoding":{"x":{"datum":0.96},"text":{"value":["Fed vs Le<0.001"]},"color":{"value":"#333"}}}
 ]},
{"width":78,"height":78,"data":{"name":"fa"},"transform":[{"filter":"datum.p=='C205'"}],
 "encoding":{"x":{"field":"d","type":"quantitative","scale":{"domain":[0,3]},"axis":{"values":[0,1,2,3],"format":"d","title":null}},
  "y":{"field":"v","type":"quantitative","scale":{"domain":[0,2]},"axis":{"values":[0,0.5,1,1.5,2],"format":".1f","title":"C20:5n3 (ratio)"}},
  "color":{"field":"g","type":"nominal","legend":null}},
 "layer":[
  {"transform":[{"filter":"datum.d>0"}],"mark":{"type":"errorbar","ticks":{"size":5},"thickness":1},"encoding":{"yError":{"field":"e"}}},
  {"mark":"line","encoding":{"strokeDash":{"field":"g","type":"nominal","scale":{"domain":["Fed","Le","Pl"],"range":[[3,2],[1,0],[1,0]]},"legend":null}}},
  {"mark":"point","encoding":{"shape":{"field":"g","type":"nominal","legend":null}}},
  {"data":{"name":"ann"},"transform":[{"filter":"datum.p=='C205'"}],"mark":{"type":"text","fontSize":9,"baseline":"middle","dy":1},"encoding":{"y":{"field":"y","type":"quantitative"},"text":{"field":"t"}}},
  {"transform":[{"filter":"datum.d==0&&datum.g=='Fed'"}],"mark":{"type":"text","align":"left","baseline":"top","dy":55,"lineHeight":9.5,"fontSize":7.3},"encoding":{"x":{"datum":-0.96},"text":{"value":["G = 0.052","T = 0.002","G*T = 0.021"]},"color":{"value":"#333"}}}
 ]},
{"width":78,"height":78,"data":{"name":"fa"},"transform":[{"filter":"datum.p=='C203'"}],
 "encoding":{"x":{"field":"d","type":"quantitative","scale":{"domain":[0,3],"range":[5,83]},"axis":{"values":[0,1,2,3],"format":"d","title":null}},
  "y":{"field":"v","type":"quantitative","scale":{"domain":[0,2]},"axis":{"values":[0,0.5,1,1.5,2],"format":".1f","title":"C20:3n6 (ratio)","offset":-5}},
  "color":{"field":"g","type":"nominal","legend":null}},
 "layer":[
  {"transform":[{"filter":"datum.d>0"}],"mark":{"type":"errorbar","ticks":{"size":5},"thickness":1},"encoding":{"yError":{"field":"e"}}},
  {"mark":"line","encoding":{"strokeDash":{"field":"g","type":"nominal","scale":{"domain":["Fed","Le","Pl"],"range":[[3,2],[1,0],[1,0]]},"legend":null}}},
  {"mark":"point","encoding":{"shape":{"field":"g","type":"nominal","legend":null}}},
  {"transform":[{"filter":"datum.d==0&&datum.g=='Fed'"}],"mark":{"type":"text","align":"left","baseline":"top","dy":55,"lineHeight":9.5,"fontSize":7.3},"encoding":{"x":{"datum":-0.92},"text":{"value":["G = 0.520","T<0.001","G*T = 0.280"]},"color":{"value":"#333"}}}
 ]},
{"width":78,"height":78,"data":{"name":"fa"},"transform":[{"filter":"datum.p=='C220'"}],
 "encoding":{"x":{"field":"d","type":"quantitative","scale":{"domain":[0,3],"range":[5,83]},"axis":{"values":[0,1,2,3],"format":"d","title":null}},
  "y":{"field":"v","type":"quantitative","scale":{"domain":[0,1.5]},"axis":{"values":[0,0.5,1,1.5],"format":".1f","title":"C22:0 (ratio)","offset":-5}},
  "color":{"field":"g","type":"nominal","legend":null}},
 "layer":[
  {"transform":[{"filter":"datum.d>0"}],"mark":{"type":"errorbar","ticks":{"size":5},"thickness":1},"encoding":{"yError":{"field":"e"}}},
  {"mark":"line","encoding":{"strokeDash":{"field":"g","type":"nominal","scale":{"domain":["Fed","Le","Pl"],"range":[[3,2],[1,0],[1,0]]},"legend":null}}},
  {"mark":"point","encoding":{"shape":{"field":"g","type":"nominal","legend":null}}},
  {"transform":[{"filter":"datum.d==0&&datum.g=='Fed'"}],"mark":{"type":"text","align":"left","baseline":"top","dy":68,"lineHeight":9.5,"fontSize":7.3},"encoding":{"x":{"datum":-0.96},"text":{"value":["G = 0.230","T<0.001","G*T = 0.500"]},"color":{"value":"#333"}}}
 ]},
{"width":78,"height":78,"data":{"name":"fa"},"transform":[{"filter":"datum.p=='C202'"}],
 "encoding":{"x":{"field":"d","type":"quantitative","scale":{"domain":[0,3],"range":[3,81]},"axis":{"values":[0,1,2,3],"format":"d","title":null}},
  "y":{"field":"v","type":"quantitative","scale":{"domain":[0,2]},"axis":{"values":[0,0.5,1,1.5,2],"format":".1f","title":"C20:2n6  (ratio)","offset":-3}},
  "color":{"field":"g","type":"nominal","legend":null}},
 "layer":[
  {"transform":[{"filter":"datum.d>0"}],"mark":{"type":"errorbar","ticks":{"size":5},"thickness":1},"encoding":{"yError":{"field":"e"}}},
  {"mark":"line","encoding":{"strokeDash":{"field":"g","type":"nominal","scale":{"domain":["Fed","Le","Pl"],"range":[[3,2],[1,0],[1,0]]},"legend":null}}},
  {"mark":"point","encoding":{"shape":{"field":"g","type":"nominal","legend":null}}},
  {"transform":[{"filter":"datum.d==0&&datum.g=='Fed'"}],"mark":{"type":"text","align":"left","baseline":"top","dy":55,"lineHeight":9.5,"fontSize":7.3},"encoding":{"x":{"datum":-1.0},"text":{"value":["G = 0.002","T = 0.133","G*T = 0.279"]},"color":{"value":"#333"}}}
 ]},
{"width":78,"height":78,"data":{"name":"fa"},"transform":[{"filter":"datum.p=='C226'"}],
 "encoding":{"x":{"field":"d","type":"quantitative","scale":{"domain":[0,3]},"axis":{"values":[0,1,2,3],"format":"d","title":null}},
  "y":{"field":"v","type":"quantitative","scale":{"domain":[0,2.5]},"axis":{"values":[0,0.5,1,1.5,2,2.5],"format":".1f","title":"C22:6n3 (ratio)"}},
  "color":{"field":"g","type":"nominal","legend":null}},
 "layer":[
  {"transform":[{"filter":"datum.d>0"}],"mark":{"type":"errorbar","ticks":{"size":5},"thickness":1},"encoding":{"yError":{"field":"e"}}},
  {"mark":"line","encoding":{"strokeDash":{"field":"g","type":"nominal","scale":{"domain":["Fed","Le","Pl"],"range":[[3,2],[1,0],[1,0]]},"legend":null}}},
  {"mark":"point","encoding":{"shape":{"field":"g","type":"nominal","legend":null}}},
  {"data":{"name":"ann"},"transform":[{"filter":"datum.p=='C226'"}],"mark":{"type":"text","fontSize":9,"baseline":"middle","dy":1},"encoding":{"y":{"field":"y","type":"quantitative"},"text":{"field":"t"}}},
  {"transform":[{"filter":"datum.d==0&&datum.g=='Fed'"}],"mark":{"type":"text","align":"left","baseline":"top","dy":47.2,"lineHeight":9.5,"fontSize":7.3},"encoding":{"x":{"datum":-1.0},"text":{"value":["G = 0.002","T<0.001","G*T = 0.001"]},"color":{"value":"#333"}}},
  {"transform":[{"filter":"datum.d==0&&datum.g=='Fed'"}],"mark":{"type":"text","align":"left","baseline":"top","dy":47.2,"lineHeight":9.5,"fontSize":7.3},"encoding":{"x":{"datum":0.88},"text":{"value":["Fed vs Le = 0.002","Fed vs Pl = 0.044"]},"color":{"value":"#333"}}}
 ]},
{"width":78,"height":143,"data":{"name":"b"},
 "title":{"text":["FFA in study 1","(72 h-fed untreated or fasting treated with placebo or leptin)"],"anchor":"start","align":"center","frame":"group","dx":108.5,"offset":-34,"fontSize":9.2,"fontWeight":"bold","lineHeight":13},
 "encoding":{"x":{"field":"d","type":"quantitative","scale":{"domain":[0,3],"range":[13.5,159.5]},"axis":{"values":[0,1,2,3],"format":"d","title":"Days","titleX":3.5,"titleY":10,"titleAlign":"right","titleBaseline":"middle","titleFontSize":7.5,"labelFontSize":6.5}},
  "y":{"field":"v","type":"quantitative","scale":{"domain":[0,1.25],"range":[143,46]},"axis":{"values":[0,0.25,0.5,0.75,1,1.25],"format":".2f","title":"FFA (mmol/l)","offset":-13.5,"labelFontSize":6.5}},
  "color":{"field":"g","type":"nominal","scale":{"domain":["Fed","Pl","Le"],"range":["#000000","#f51d1d","#1e1efa"]},"legend":{"orient":"none","legendX":-19,"legendY":160,"direction":"horizontal","title":null,"labelFontSize":8.5,"symbolSize":30,"labelOffset":8,"columnPadding":12,"labelExpr":"datum.label=='Fed'?'Fed (fed)':datum.label=='Pl'?'Fasting + placebo (Pl)':'Fasting + leptin (Le)'"}}},
 "layer":[
  {"mark":{"type":"errorbar","ticks":{"size":5},"thickness":1},"encoding":{"yError":{"field":"e"}}},
  {"mark":"line","encoding":{"strokeDash":{"field":"g","type":"nominal","scale":{"domain":["Fed","Pl","Le"],"range":[[3,2],[1,0],[1,0]]},"legend":null}}},
  {"mark":"point","encoding":{
    "shape":{"field":"g","type":"nominal","scale":{"domain":["Fed","Pl","Le"],"range":["circle","square","triangle-up"]},"legend":{"orient":"none","legendX":-19,"legendY":160,"direction":"horizontal","title":null,"labelFontSize":8.5,"symbolSize":30,"labelOffset":8,"columnPadding":12,"labelExpr":"datum.label=='Fed'?'Fed (fed)':datum.label=='Pl'?'Fasting + placebo (Pl)':'Fasting + leptin (Le)'"}}}},
  {"data":{"values":[{"d":2,"y":1.12,"t":"***","g":"Pl"},{"d":2,"y":0.81,"t":"***","g":"Le"},{"d":3,"y":1.18,"t":"***","g":"Pl"},{"d":3,"y":0.81,"t":"***","g":"Le"}]},"mark":{"type":"text","fontSize":9,"baseline":"middle","dy":1},"encoding":{"y":{"field":"y","type":"quantitative"},"text":{"field":"t"}}},
  {"transform":[{"filter":"datum.d==0&&datum.g=='Fed'"}],"mark":{"type":"text","align":"left","baseline":"top","dy":-77.8,"lineHeight":9.5,"fontSize":7.5},"encoding":{"x":{"datum":3.49},"text":{"value":["G<0.001","T<0.001","G*T<0.001"]},"color":{"value":"#333"}}},
  {"transform":[{"filter":"datum.d==0&&datum.g=='Fed'"}],"mark":{"type":"text","align":"left","baseline":"top","dy":-43.8,"lineHeight":9.5,"fontSize":7.5},"encoding":{"x":{"datum":3.49},"text":{"value":["Fed vs Pl<0.001","Fed vs Le<0.001"]},"color":{"value":"#333"}}}
 ]},
{"width":78,"height":143,"data":{"name":"c"},
 "title":{"text":["FFA in study 3","(open-label long-term leptin treatment)"],"anchor":"start","align":"center","frame":"group","dx":248,"offset":-34,"fontSize":9.2,"fontWeight":"bold","lineHeight":13},
 "encoding":{"x":{"field":"d","type":"quantitative","scale":{"domain":[0,80],"range":[183,340]},"axis":{"values":[15,45,75],"format":"d","title":"Days","titleX":172,"titleY":10,"titleAlign":"right","titleBaseline":"middle","titleFontSize":7.5,"labelFontSize":6.5}},
  "y":{"field":"v","type":"quantitative","scale":{"domain":[0,1],"range":[143,46]},"axis":{"values":[0,0.2,0.4,0.6,0.8,1],"format":".1f","title":"FFA (meq/l)","offset":-183,"labelFontSize":6.5}}},
 "layer":[
  {"mark":{"type":"errorbar","ticks":{"size":5},"thickness":1,"color":"#000"},"encoding":{"yError":{"field":"e"}}},
  {"mark":{"type":"line","color":"#000"}},
  {"mark":{"type":"point","shape":"square","color":"#000","size":25}},
  {"transform":[{"filter":"datum.d==15"}],"mark":{"type":"text","fontSize":9,"baseline":"middle","dy":-10,"color":"#000"},"encoding":{"text":{"value":"**"}}},
  {"transform":[{"filter":"datum.d==0"}],"mark":{"type":"text","align":"right","baseline":"middle","dy":-52.4,"fontSize":7.5,"color":"#333"},"encoding":{"x":{"datum":77.5},"text":{"value":"P = 0.006"}}}
 ]},
{"width":78,"height":143,"data":{"name":"dd"},
 "title":{"text":["FFA in study 4","(placebo-controlled long-term leptin treatment)"],"anchor":"start","align":"center","frame":"group","dx":368,"offset":-34,"fontSize":9.2,"fontWeight":"bold","lineHeight":13},
 "encoding":{"x":{"field":"w","type":"quantitative","scale":{"domain":[0,37],"range":[294.3,446]},"axis":{"values":[0,12,24,36],"format":"d","title":"Weeks","titleX":286,"titleY":10,"titleAlign":"right","titleBaseline":"middle","titleFontSize":7.5,"labelFontSize":6.5}},
  "y":{"field":"v","type":"quantitative","scale":{"domain":[0,1],"range":[143,46]},"axis":{"values":[0,0.2,0.4,0.6,0.8,1],"format":".1f","title":"FFA (meq/l)","offset":-294.3,"labelFontSize":6.5}}},
 "layer":[
  {"mark":{"type":"errorbar","ticks":{"size":5},"thickness":1,"color":"#000"},"encoding":{"yError":{"field":"e"}}},
  {"mark":{"type":"line","color":"#000"},"encoding":{"detail":{"field":"g","type":"nominal"},"strokeDash":{"condition":{"test":"datum.g=='Placebo'","value":[3,2]},"value":[1,0]}}},
  {"mark":{"type":"point","filled":true,"strokeWidth":1,"size":25,"opacity":1},"encoding":{
    "shape":{"field":"g","type":"nominal","scale":{"domain":["Leptin","Placebo"],"range":["square","circle"]},"legend":{"orient":"none","legendX":321,"legendY":162,"direction":"horizontal","title":null,"labelFontSize":8,"symbolSize":30,"labelOffset":6,"columnPadding":10,"symbolStrokeWidth":1}},
    "fill":{"field":"g","type":"nominal","scale":{"domain":["Leptin","Placebo"],"range":["#000000","#ffffff"]},"legend":{"orient":"none","legendX":321,"legendY":162,"direction":"horizontal","title":null,"labelFontSize":8,"symbolSize":30,"labelOffset":6,"columnPadding":10,"symbolStrokeWidth":1}},
    "stroke":{"field":"g","type":"nominal","scale":{"domain":["Leptin","Placebo"],"range":["#000000","#000000"]},"legend":{"orient":"none","legendX":321,"legendY":162,"direction":"horizontal","title":null,"labelFontSize":8,"symbolSize":30,"labelOffset":6,"columnPadding":10,"symbolStrokeWidth":1}}}},
  {"transform":[{"filter":"datum.w==0&&datum.g=='Leptin'"}],"mark":{"type":"text","align":"left","baseline":"top","dy":-51.6,"lineHeight":9.2,"fontSize":8.5,"color":"#333"},"encoding":{"x":{"datum":26.8},"text":{"value":["G = 0.079","T = 0.037","G*T = 0.050"]}}}
 ]},
{"width":78,"height":143,"data":{"values":[]},"mark":"text","title":{"text":"b","anchor":"start","frame":"group","dx":-436.4,"offset":-17,"fontSize":15,"fontWeight":"bold"}},
{"width":78,"height":143,"data":{"values":[]},"mark":"text","title":{"text":"c","anchor":"start","frame":"group","dx":-254.9,"offset":-17,"fontSize":15,"fontWeight":"bold"}},
{"width":78,"height":143,"data":{"values":[]},"mark":"text","title":{"text":"d","anchor":"start","frame":"group","dx":-152,"offset":-17,"fontSize":15,"fontWeight":"bold"}}
],
"config":{
 "font":"Liberation Sans",
 "view":{"stroke":null},
 "axis":{"grid":false,"domainColor":"#000","tickColor":"#000","labelColor":"#000","titleColor":"#000","labelFontSize":6,"labelFontWeight":"bold","titleFontSize":7.5,"titleFontWeight":"bold","tickSize":3,"labelPadding":2.5,"titlePadding":5,"domainWidth":1,"tickWidth":1,"labelFlush":false,"labelOverlap":false},
 "range":{"category":["#000000","#1e1efa","#f51d1d"],"symbol":["circle","triangle-up","square"]},
 "point":{"size":22,"opacity":1,"filled":true},
 "line":{"strokeWidth":1.3},
 "title":{"color":"#000"},
 "legend":{"labelColor":"#333","labelFont":"Liberation Sans"}
}
}
